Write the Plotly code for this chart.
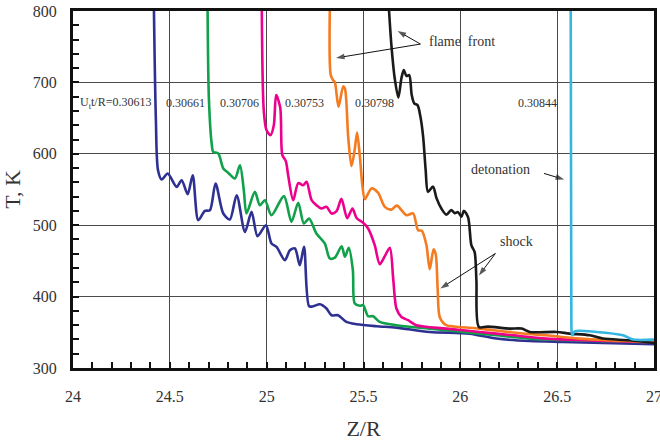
import plotly.graph_objects as go

# ---- data (Z/R, T in K) ----
blue_x = [24.418, 24.428, 24.439, 24.458, 24.489, 24.535, 24.561, 24.592, 24.618, 24.647, 24.681, 24.707,
          24.736, 24.776, 24.810, 24.845, 24.888, 24.922, 24.953, 24.996, 25.025, 25.051, 25.094, 25.120,
          25.146, 25.171, 25.193, 25.219, 25.240, 25.275, 25.309, 25.335, 25.369, 25.412, 25.464, 25.567,
          25.670, 25.842, 26.048, 26.186, 26.358, 26.528, 27.0]
blue_y = [800, 647, 577, 564, 572.5, 553.7, 563, 543.5, 570, 507, 520, 521,
          558.5, 516.4, 508, 542, 490.6, 518.7, 484.6, 500, 474.4, 469.6, 451, 465,
          467.4, 444, 469.6, 386.5, 386.5, 389.3, 383.3, 373.9, 373.9, 364.5, 361.3, 358.5,
          356.6, 350.5, 348.2, 341.2, 337.8, 336.4, 333.2]

green_x = [24.695, 24.702, 24.717, 24.724, 24.750, 24.776, 24.801, 24.836, 24.862, 24.882, 24.896, 24.939,
           24.965, 24.991, 25.025, 25.089, 25.128, 25.163, 25.192, 25.219, 25.257, 25.300, 25.326, 25.352,
           25.387, 25.404, 25.424, 25.445, 25.455, 25.481, 25.498, 25.524, 25.550, 25.584, 25.670, 25.842,
           26.014, 26.186, 26.358, 27.0]
green_y = [800, 675, 612, 602.8, 600.5, 579.5, 573.6, 565.5, 584, 549, 516.4, 546.7,
           528, 535, 514, 540.7, 504.7, 531.3, 502.4, 509.4, 488.4, 474.4, 453.4, 454.5,
           470.6, 455.9, 468.5, 437, 390.3, 387.2, 388, 372.5, 372.5, 364.5, 359.9, 355.2,
           350.5, 345.8, 341.2, 336.4]

magenta_x = [24.975, 24.985, 24.999, 25.020, 25.037, 25.049, 25.070, 25.081, 25.099, 25.111, 25.137, 25.163,
             25.188, 25.206, 25.232, 25.257, 25.283, 25.309, 25.335, 25.361, 25.386, 25.416, 25.443, 25.465,
             25.498, 25.524, 25.558, 25.584, 25.610, 25.636, 25.654, 25.670, 25.696, 25.730, 25.773, 25.928,
             26.100, 26.272, 26.444, 27.0]
magenta_y = [800, 661, 633.2, 626.2, 640, 682.3, 664.7, 598.2, 589.7, 570, 535, 559,
             556, 560.7, 535, 528, 523.4, 525.7, 516.4, 519.7, 536.8, 509.8, 523.4, 509.8,
             503.5, 495.4, 472, 445.4, 456.6, 468.5, 422.9, 383.3, 371.5, 366.9, 359.9, 355.2,
             350.5, 345.8, 341.2, 336.4]

orange_x = [25.326, 25.331, 25.344, 25.352, 25.371, 25.395, 25.404, 25.421, 25.438, 25.455, 25.467, 25.482,
            25.494, 25.507, 25.541, 25.575, 25.610, 25.644, 25.672, 25.722, 25.756, 25.782, 25.801, 25.825,
            25.842, 25.862, 25.873, 25.883, 25.894, 25.927, 25.997, 26.100, 26.272, 26.444, 26.616, 27.0]
orange_y = [800, 710.3, 702.6, 700.5, 665.9, 694.4, 691.6, 623.4, 582.7, 606.6, 629.7, 593.9,
            556.1, 536.5, 551.5, 545.6, 525.7, 521.8, 527.4, 514, 516.4, 493, 492.3, 472,
            438.4, 466.4, 459.4, 410.3, 371.1, 359.9, 357.5, 355.2, 349.8, 345.8, 341.2, 336.4]

black_x = [25.632, 25.644, 25.661, 25.680, 25.696, 25.708, 25.722, 25.736, 25.749, 25.762, 25.779, 25.794,
           25.808, 25.821, 25.833, 25.859, 25.877, 25.902, 25.928, 25.953, 25.971, 25.988, 26.006, 26.018,
           26.040, 26.057, 26.074, 26.083, 26.096, 26.141, 26.255, 26.317, 26.358, 26.496, 26.564, 26.668,
           26.736, 26.874, 27.0]
black_y = [800, 752.3, 706.1, 678.7, 706.1, 717.3, 708.9, 710.3, 682.3, 670.6, 668.2, 651.8,
           623.8, 577.1, 546.7, 554, 537.9, 523.4, 514.7, 521.1, 516.8, 518.3, 512, 520.1,
           511.2, 472, 462.2, 422.9, 357.5, 358, 355.2, 355.2, 350.5, 350.5, 348.2, 345.8,
           341.2, 338.8, 335]

cyan_x = [26.570, 26.573, 26.578, 26.590, 26.702, 26.840, 26.891, 27.0]
cyan_y = [800, 394.9, 345.8, 351.4, 350.5, 345.8, 339.8, 339.8]

series = [
    (blue_x, blue_y, "#2E3192"),
    (green_x, green_y, "#10A14A"),
    (magenta_x, magenta_y, "#EC008C"),
    (orange_x, orange_y, "#F47B20"),
    (black_x, black_y, "#1A1A1A"),
    (cyan_x, cyan_y, "#35B6E0"),
]

time_labels = ["U<sub>t</sub>t/R=0.30613", "0.30661", "0.30706", "0.30753", "0.30798", "0.30844"]
time_label_x = [24.217, 24.58, 24.858, 25.197, 25.558, 26.401]
time_label_y = 671.5

x_ticks = [24, 24.5, 25, 25.5, 26, 26.5, 27]
x_tick_text = ["24", "24.5", "25", "25.5", "26", "26.5", "27"]
y_ticks = [300, 400, 500, 600, 700, 800]

# arrow tails and heads (data coords)
arrow_tail_x = [25.794, 25.794, 26.432, 26.181, 26.181]
arrow_tail_y = [753.7, 753.7, 572.5, 460.4, 460.4]
arrow_head_x = [25.676, 25.358, 26.536, 25.897, 26.096]
arrow_head_y = [772.0, 734.2, 564.0, 411.5, 429.5]

SERIF = "Liberation Serif, Times New Roman, serif"

fig = go.Figure()
for xs, ys, col in series:
    fig.add_trace(go.Scatter(x=xs, y=ys, mode="lines",
                             line=dict(color=col, width=2.6, shape="spline", smoothing=0.8),
                             showlegend=False, hoverinfo="skip"))

for tx, ty, hx, hy in zip(arrow_tail_x, arrow_tail_y, arrow_head_x, arrow_head_y):
    fig.add_trace(go.Scatter(x=[tx, hx], y=[ty, hy], mode="lines+markers",
                             line=dict(color="#111111", width=1),
                             marker=dict(symbol=["circle", "arrow"], size=[0, 9], color="#111111",
                                         angleref="previous", line=dict(width=0)),
                             showlegend=False, hoverinfo="skip"))

ann = []
for t, xv in zip(time_labels, time_label_x):
    ann.append(dict(x=xv, y=time_label_y, text=t, showarrow=False,
                    font=dict(family=SERIF, size=12, color="#333333")))

ann.append(dict(x=26.011, y=757, text="flame  front", showarrow=False,
                font=dict(family=SERIF, size=14, color="#333333")))
ann.append(dict(x=26.205, y=578, text="detonation", showarrow=False,
                font=dict(family=SERIF, size=14, color="#333333")))
ann.append(dict(x=26.291, y=476.6, text="shock", showarrow=False,
                font=dict(family=SERIF, size=14, color="#333333")))

fig.update_layout(
    width=660, height=441,
    margin=dict(l=73, r=6, t=11, b=73, autoexpand=False),
    paper_bgcolor="white", plot_bgcolor="white",
    annotations=ann,
    xaxis=dict(range=[24, 27], tickvals=x_ticks, ticktext=x_tick_text,
               automargin=False, ticklabeloverflow="allow",
               showgrid=True, gridcolor="#4a4a4a", gridwidth=1,
               ticks="inside", ticklen=6, tickwidth=2, tickcolor="#111",
               minor=dict(dtick=0.1, tick0=24, ticks="inside", ticklen=6, tickwidth=2, tickcolor="#111", showgrid=False),
               showline=True, linecolor="#111", linewidth=3, mirror=True,
               zeroline=False, ticklabelstandoff=12,
               tickfont=dict(family=SERIF, size=16, color="#333333"),
               title=dict(text="Z/R", font=dict(family=SERIF, size=22, color="#333333"), standoff=18)),
    yaxis=dict(range=[300, 800], tickvals=y_ticks,
               automargin=False, ticklabeloverflow="allow",
               showgrid=True, gridcolor="#4a4a4a", gridwidth=1,
               ticks="inside", ticklen=6, tickwidth=2, tickcolor="#111",
               minor=dict(dtick=20, tick0=300, ticks="inside", ticklen=6, tickwidth=2, tickcolor="#111", showgrid=False),
               showline=True, linecolor="#111", linewidth=3, mirror=True,
               zeroline=False, ticklabelstandoff=10,
               tickfont=dict(family=SERIF, size=16, color="#333333"),
               title=dict(text="T, K", font=dict(family=SERIF, size=22, color="#333333"), standoff=12)),
)

fig.write_html("out.html")
